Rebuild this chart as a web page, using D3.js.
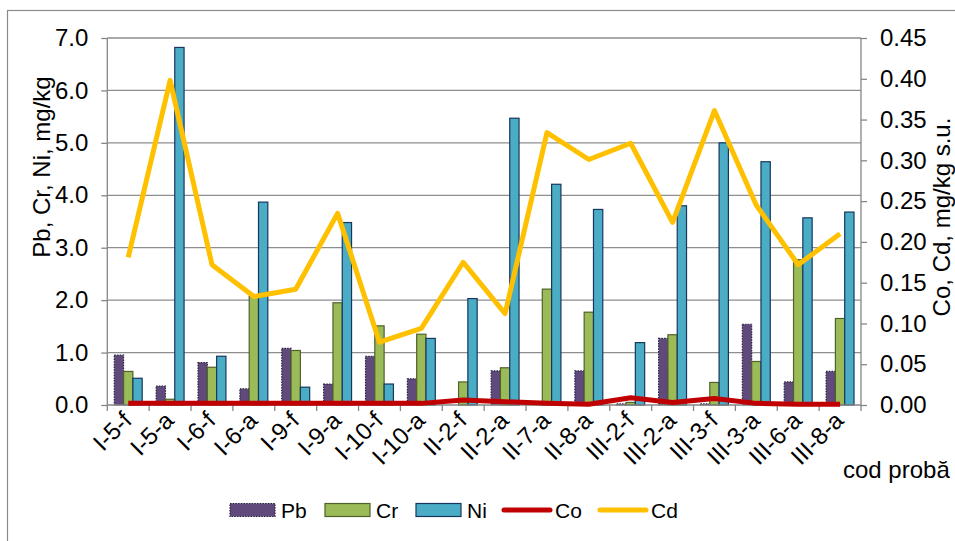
<!DOCTYPE html>
<html>
<head>
<meta charset="utf-8">
<script src="https://cdn.jsdelivr.net/npm/d3@7"></script>
<style>
  html, body { margin: 0; padding: 0; background: #fff; }
  svg { display: block; font-family: "Liberation Sans", Arial, sans-serif; }
</style>
</head>
<body>
<svg id="chart" width="955" height="541"></svg>
<script>
// Sample codes
const categories = ["I-5-f","I-5-a","I-6-f","I-6-a","I-9-f","I-9-a","I-10-f","I-10-a",
  "II-2-f","II-2-a","II-7-a","II-8-a","III-2-f","III-2-a","III-3-f","III-3-a","III-6-a","III-8-a"];

// Left axis metals, mg/kg
const pb = [0.95,0.36,0.81,0.31,1.08,0.40,0.93,0.50,0.00,0.65,0.00,0.65,0.02,1.27,0.02,1.54,0.44,0.64];
const cr = [0.64,0.11,0.72,2.07,1.04,1.95,1.51,1.35,0.44,0.71,2.21,1.77,0.05,1.34,0.43,0.83,2.77,1.65];
const ni = [0.51,6.82,0.93,3.87,0.34,3.48,0.40,1.27,2.03,5.47,4.21,3.73,1.19,3.80,5.00,4.64,3.57,3.68];

// Right axis metals, mg/kg s.u.
const co = [0.002,0.002,0.002,0.002,0.002,0.002,0.002,0.002,0.006,0.004,0.002,0.001,0.009,0.003,0.008,0.002,0.001,0.001];
const cd = [0.181,0.398,0.172,0.133,0.142,0.235,0.077,0.094,0.175,0.112,0.334,0.301,0.321,0.224,0.361,0.245,0.172,0.210];

const leftTicks = [0,1,2,3,4,5,6,7];
const rightTicks = [0,0.05,0.10,0.15,0.20,0.25,0.30,0.35,0.40,0.45];

const svg = d3.select("#chart");
const plot = { left: 107.3, right: 861, top: 38, bottom: 405 };
const gridColor = "#8e8e8e";
const fontSize = 24;

// Chart frame
svg.append("rect").attr("x", 7.5).attr("y", 10.5).attr("width", 1000).attr("height", 600)
  .attr("fill", "none").attr("stroke", "#8a8a8a").attr("stroke-width", 1.2);

const x = d3.scaleBand().domain(categories).range([plot.left, plot.right]).paddingInner(0).paddingOuter(0);
const yL = d3.scaleLinear().domain([0, 7]).range([plot.bottom, plot.top]);
const yR = d3.scaleLinear().domain([0, 0.45]).range([plot.bottom, plot.top]);

// Horizontal gridlines
svg.append("g").selectAll("line").data(leftTicks.slice(1)).join("line")
  .attr("x1", plot.left).attr("x2", plot.right)
  .attr("y1", d => yL(d)).attr("y2", d => yL(d))
  .attr("stroke", gridColor).attr("stroke-width", 1.3);

// Bars
const bw = x.bandwidth() / 4.5;
const series = [
  { name: "Pb", values: pb, fill: "#604A7B", stroke: "#2a2040", dash: "1.5,1.2" },
  { name: "Cr", values: cr, fill: "#9BBB59", stroke: "#4F6228", dash: null },
  { name: "Ni", values: ni, fill: "#4BACC6", stroke: "#17375E", dash: null }
];
series.forEach((s, si) => {
  svg.append("g").selectAll("rect").data(categories).join("rect")
    .attr("x", (c) => x(c) + x.bandwidth() / 2 - 1.5 * bw + si * bw)
    .attr("y", (c, i) => yL(s.values[i]))
    .attr("width", bw)
    .attr("height", (c, i) => plot.bottom - yL(s.values[i]))
    .attr("fill", s.fill)
    .attr("stroke", (c, i) => s.values[i] > 0 ? s.stroke : "none")
    .attr("stroke-width", 1.2)
    .attr("stroke-dasharray", s.dash);
});

// Axes
const axisColor = "#868686";
const gL = svg.append("g").attr("transform", `translate(${plot.left},0)`)
  .call(d3.axisLeft(yL).tickValues(leftTicks).tickFormat(d3.format(".1f")).tickSize(6).tickPadding(13));
const gR = svg.append("g").attr("transform", `translate(${plot.right},0)`)
  .call(d3.axisRight(yR).tickValues(rightTicks).tickFormat(d3.format(".2f")).tickSize(6).tickPadding(13));
[gL, gR].forEach(g => {
  g.select(".domain").attr("stroke", axisColor).attr("stroke-width", 1.3).attr("d", `M0,${plot.top}V${plot.bottom}`);
  g.selectAll(".tick line").attr("stroke", axisColor).attr("stroke-width", 1.3);
  g.selectAll(".tick text").attr("fill", "#000").attr("font-size", fontSize).attr("font-family", "Liberation Sans, Arial, sans-serif");
});

// Category axis with boundary ticks
const gX = svg.append("g");
gX.append("line").attr("x1", plot.left).attr("x2", plot.right)
  .attr("y1", plot.bottom).attr("y2", plot.bottom).attr("stroke", axisColor).attr("stroke-width", 1.3);
const bounds = categories.map(c => x(c)).concat([plot.right]);
gX.selectAll("line.tk").data(bounds).join("line").attr("class", "tk")
  .attr("x1", d => d).attr("x2", d => d).attr("y1", plot.bottom).attr("y2", plot.bottom + 6)
  .attr("stroke", axisColor).attr("stroke-width", 1.3);
gX.selectAll("text").data(categories).join("text")
  .attr("transform", c => `translate(${x(c) + x.bandwidth() / 2 + 5},${plot.bottom + 17}) rotate(-45)`)
  .attr("text-anchor", "end")
  .attr("font-size", fontSize)
  .text(c => c);

// Lines
const lineGen = (scale) => d3.line().x((d, i) => x(categories[i]) + x.bandwidth() / 2).y(d => scale(d));
svg.append("path").datum(cd).attr("d", lineGen(yR))
  .attr("fill", "none").attr("stroke", "#FFC000").attr("stroke-width", 5).attr("stroke-linejoin", "round");
svg.append("path").datum(co).attr("d", lineGen(yR))
  .attr("fill", "none").attr("stroke", "#C00000").attr("stroke-width", 5).attr("stroke-linejoin", "round");

// Axis titles
svg.append("text").attr("transform", "translate(50,167) rotate(-90)")
  .attr("text-anchor", "middle").attr("font-size", fontSize).text("Pb, Cr, Ni, mg/kg");
svg.append("text").attr("transform", "translate(950,217) rotate(-90)")
  .attr("text-anchor", "middle").attr("font-size", fontSize).text("Co, Cd, mg/kg s.u.");
svg.append("text").attr("x", 843).attr("y", 478).attr("font-size", fontSize).text("cod probă");

// Legend
const legend = [
  { name: "Pb", type: "rect", fill: "#604A7B", stroke: "#2a2040", dash: "1.5,1.2", x: 230 },
  { name: "Cr", type: "rect", fill: "#9BBB59", stroke: "#4F6228", dash: null, x: 325 },
  { name: "Ni", type: "rect", fill: "#4BACC6", stroke: "#17375E", dash: null, x: 416 },
  { name: "Co", type: "line", stroke: "#C00000", x: 504 },
  { name: "Cd", type: "line", stroke: "#FFC000", x: 600 }
];
const lg = svg.append("g");
legend.forEach(l => {
  if (l.type === "rect") {
    lg.append("rect").attr("x", l.x).attr("y", 503.5).attr("width", 45).attr("height", 13)
      .attr("fill", l.fill).attr("stroke", l.stroke).attr("stroke-width", 1.2).attr("stroke-dasharray", l.dash);
  } else {
    lg.append("line").attr("x1", l.x).attr("x2", l.x + 46).attr("y1", 510).attr("y2", 510)
      .attr("stroke", l.stroke).attr("stroke-width", 5).attr("stroke-linecap", "round");
  }
  lg.append("text").attr("x", l.x + 51).attr("y", 518).attr("font-size", 21).text(l.name);
});
</script>
</body>
</html>
